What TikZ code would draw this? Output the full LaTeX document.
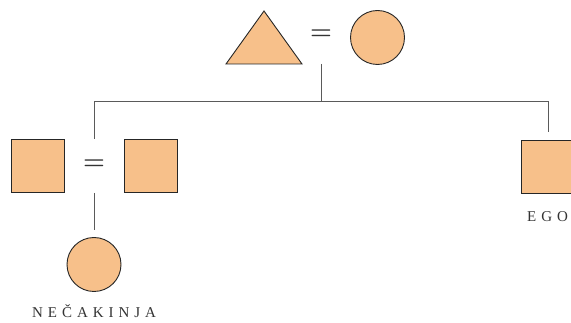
\documentclass[tikz,border=0pt]{standalone}
\usepackage{fontspec}
\setmainfont{Latin Modern Roman}
\newfontfamily\lblfont[LetterSpace=33]{Liberation Serif}
\definecolor{fillor}{HTML}{F7C08A}
\definecolor{lnc}{HTML}{5A5A5A}
\definecolor{txc}{HTML}{333333}
\begin{document}
\begin{tikzpicture}[x=1pt,y=-1pt,
  shp/.style={draw=black!85,fill=fillor,line width=0.9pt},
  sq/.style={shp,rectangle,minimum size=53pt,inner sep=0pt},
  ci/.style={shp,circle,minimum size=54pt,inner sep=0pt},
  eqs/.style={font=\fontsize{25}{25}\selectfont\bfseries,text=txc,inner sep=0pt},
  lbl/.style={font=\lblfont\fontsize{15}{15}\selectfont,text=txc,inner sep=0pt,anchor=base west},
  ln/.style={draw=lnc,line width=1pt}]
\useasboundingbox (0,0) rectangle (571,323);
\clip (0,0) rectangle (571,323);
% top couple
\draw[shp] (226,64) -- (264,11) -- (302,64) -- cycle;
\node[eqs] (eq1) at (321,35) {=};
\node[ci] (mo) at (377.5,37.5) {};
\coordinate (c1) at (321,64);
\coordinate (c2) at (321,102);
\coordinate (l1) at (94,102);
\coordinate (r1) at (548,102);
\coordinate (l2) at (94,139);
\coordinate (r2) at (548,132);
\draw[ln] (c1) -- (c2);
\draw[ln] (l2) -- (l1) -- (r1) -- (r2);
% second generation
\node[sq] (s1) at (37.5,166) {};
\node[eqs] (eq2) at (94,165) {=};
\node[sq] (s2) at (150.5,166) {};
\node[sq] (ego) at (547.5,166.5) {};
\node[lbl] (egol) at (527,222) {EGO};
% third generation
\coordinate (d1) at (94,193);
\coordinate (d2) at (94,230);
\draw[ln] (d1) -- (d2);
\node[ci] (ne) at (94,264.5) {};
\node[lbl] (nel) at (32,318) {NEČAKINJA};
\end{tikzpicture}
\end{document}
